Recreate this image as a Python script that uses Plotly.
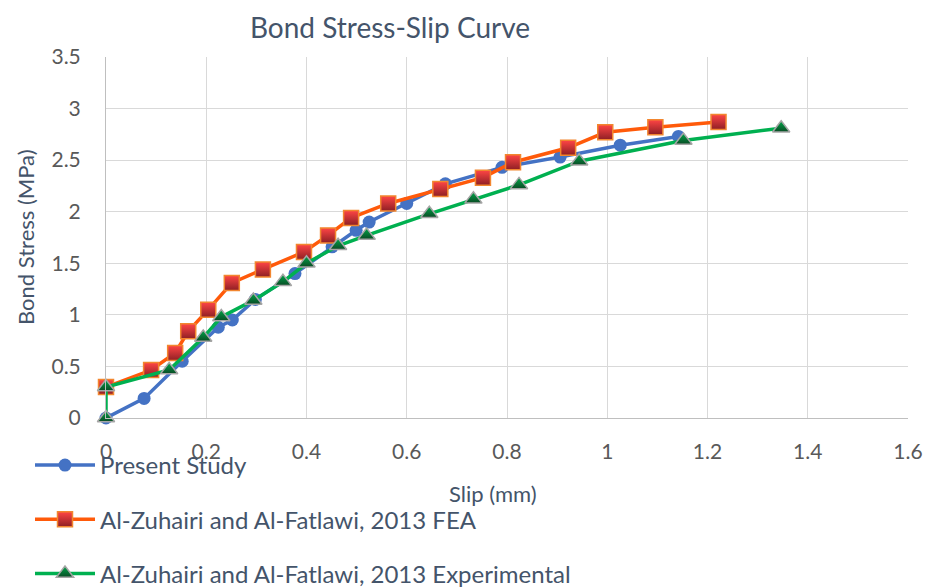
import plotly.graph_objects as go

# Data
present_x = [0, 0.076, 0.152, 0.224, 0.252, 0.298, 0.377, 0.451, 0.499, 0.525, 0.600, 0.677, 0.790, 0.906, 1.026, 1.142]
present_y = [0, 0.19, 0.55, 0.88, 0.95, 1.15, 1.40, 1.66, 1.82, 1.90, 2.08, 2.27, 2.43, 2.53, 2.645, 2.73]

fea_x = [0, 0.090, 0.138, 0.164, 0.204, 0.251, 0.313, 0.395, 0.443, 0.489, 0.563, 0.667, 0.752, 0.812, 0.922, 0.996, 1.096, 1.222]
fea_y = [0.30, 0.465, 0.63, 0.84, 1.05, 1.31, 1.44, 1.61, 1.77, 1.94, 2.08, 2.22, 2.33, 2.48, 2.62, 2.77, 2.82, 2.87]

exp_x = [0, 0, 0.126, 0.194, 0.230, 0.294, 0.353, 0.400, 0.463, 0.520, 0.645, 0.733, 0.824, 0.944, 1.152, 1.347]
exp_y = [0, 0.30, 0.465, 0.78, 0.98, 1.14, 1.32, 1.50, 1.67, 1.77, 1.98, 2.12, 2.26, 2.49, 2.69, 2.81]

x_ticks = [0, 0.2, 0.4, 0.6, 0.8, 1, 1.2, 1.4, 1.6]
x_tick_labels = ["0", "0.2", "0.4", "0.6", "0.8", "1", "1.2", "1.4", "1.6"]
y_ticks = [0, 0.5, 1, 1.5, 2, 2.5, 3, 3.5]
y_tick_labels = ["0", "0.5", "1", "1.5", "2", "2.5", "3", "3.5"]

FONT = "Lato, 'Open Sans', sans-serif"
TXT = "#44546A"

fig = go.Figure()
fig.add_trace(go.Scatter(
    x=present_x, y=present_y, mode="lines+markers", name="Present Study",
    legendgroup="a",
    line=dict(color="#4472C4", width=3.5),
    marker=dict(symbol="circle", size=13, color="#4472C4", line=dict(width=0)),
    cliponaxis=False))
fig.add_trace(go.Scatter(
    x=fea_x, y=fea_y, mode="lines+markers", name="Al-Zuhairi and Al-Fatlawi, 2013 FEA",
    legendgroup="b",
    line=dict(color="#FF5A0A", width=3.5),
    marker=dict(symbol="square", size=15, color="#FF4545",
                gradient=dict(type="vertical", color="#8E1F24"),
                line=dict(color="#F2862F", width=1.5)),
    cliponaxis=False))
fig.add_trace(go.Scatter(
    x=exp_x, y=exp_y, mode="lines+markers", name="Al-Zuhairi and Al-Fatlawi, 2013 Experimental",
    legendgroup="c",
    line=dict(color="#00B050", width=3.5),
    marker=dict(symbol="triangle-up", size=15, color="#00A84A",
                gradient=dict(type="vertical", color="#0A4A24"),
                line=dict(color="#A5A5A5", width=1.5)),
    cliponaxis=False))

fig.update_layout(
    width=930, height=587,
    margin=dict(l=106, r=22, t=57, b=169, autoexpand=False),
    paper_bgcolor="white", plot_bgcolor="white",
    font=dict(family=FONT, color="#595959", size=21),
    title=dict(text="Bond Stress-Slip Curve", x=390/930, xanchor="center",
               y=1 - 28/587, yanchor="middle",
               font=dict(family=FONT, size=28, color=TXT)),
    showlegend=True,
    legend=dict(x=(30 - 106) / 802, xanchor="left", y=(418 - 443) / 361, yanchor="top",
                traceorder="grouped", tracegroupgap=20,
                font=dict(family=FONT, size=24, color=TXT),
                bgcolor="rgba(0,0,0,0)", itemwidth=60),
    xaxis=dict(range=[0, 1.6], tickvals=x_ticks, ticktext=x_tick_labels,
               showgrid=True, gridcolor="#D9D9D9", gridwidth=1,
               zeroline=False, showline=True, linecolor="#BFBFBF", linewidth=1,
               ticks="", ticklabelstandoff=15, tickfont=dict(size=21)),
    yaxis=dict(range=[0, 3.5], tickvals=y_ticks, ticktext=y_tick_labels,
               showgrid=True, gridcolor="#D9D9D9", gridwidth=1,
               zeroline=False, showline=True, linecolor="#BFBFBF", linewidth=1,
               ticks="", ticklabelstandoff=20, tickfont=dict(size=21)),
    annotations=[
        dict(text="Slip (mm)", xref="paper", yref="paper",
             x=(493 - 106) / 802, y=(418 - 493) / 361, xanchor="center", yanchor="middle",
             showarrow=False, font=dict(family=FONT, size=22, color=TXT)),
        dict(text="Bond Stress (MPa)", xref="paper", yref="paper",
             x=(25 - 106) / 802, y=(418 - 237) / 361, xanchor="center", yanchor="middle",
             textangle=-90, showarrow=False, font=dict(family=FONT, size=22, color=TXT)),
    ],
)

fig.write_html("out.html")
